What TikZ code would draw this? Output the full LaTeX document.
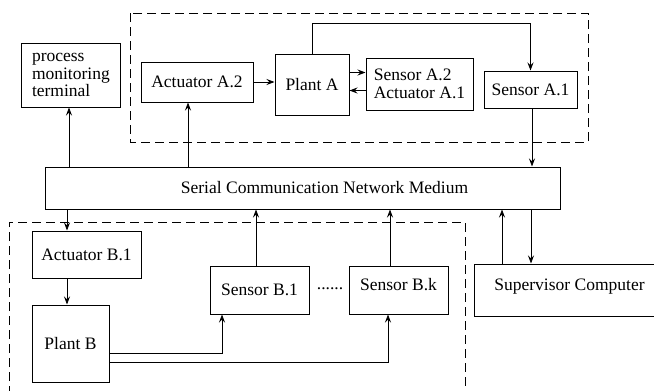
\documentclass[tikz,border=0pt]{standalone}
\usepackage{fontspec}
\setmainfont{Liberation Serif}
\usetikzlibrary{arrows.meta}
\begin{document}
\begin{tikzpicture}[x=1pt,y=-1pt,
  txt/.style={font=\fontsize{17.5}{17.5}\selectfont},
  box/.style={draw, line width=1pt, inner sep=0pt, txt},
  arr/.style={-{Stealth[length=8pt,width=6pt,inset=3pt]}, line width=0.9pt},
  group/.style={draw, line width=1pt, dash pattern=on 9pt off 5pt}]
\useasboundingbox (0,0) rectangle (654,391);

% subsystem A and subsystem B enclosures
\draw[group] (130,13) rectangle (588,142);
\draw[group] (9,395) -- (9,222) -- (465,222) -- (465,395);

% blocks
\node[box, minimum width=99pt, minimum height=64pt, text width=77pt, align=left] (pmt) at (70.5,75) {process\\monitoring\\terminal};
\node[box, minimum width=112pt, minimum height=40pt] (actA2) at (197,82) {Actuator A.2};
\node[box, minimum width=74pt, minimum height=61pt] (plantA) at (312,84.5) {Plant A};
\node[box, minimum width=107pt, minimum height=52pt, align=left] (sensA2) at (419.5,84) {Sensor A.2\\Actuator A.1};
\node[box, minimum width=93pt, minimum height=37pt] (sensA1) at (530.5,89.5) {Sensor A.1};

\node[box, minimum width=515pt, minimum height=42pt] (net) at (302.5,188) {};
\node[txt, inner sep=0pt] (netlabel) at (324.5,188) {Serial Communication Network Medium};

\node[box, minimum width=109pt, minimum height=47pt] (actB1) at (86.5,254.5) {Actuator B.1};
\node[box, minimum width=77pt, minimum height=77pt] (plantB) at (70.5,343.5) {Plant B};
\node[box, minimum width=99pt, minimum height=48pt] (sensB1) at (259.5,290) {Sensor B.1};
\node[txt, inner sep=0pt] (dots) at (330,289) {......};
\node[box, minimum width=99pt, minimum height=48pt] (sensBk) at (398.5,290) {};
\node[txt, inner sep=0pt] (sensBklabel) at (398.5,284.5) {Sensor B.k};
\node[box, minimum width=182pt, minimum height=52pt] (sup) at (565,290) {};
\node[txt, inner sep=0pt] (suplabel) at (569.5,287) {Supervisor Computer};

% subsystem A signal paths
\draw[arr] ([xshift=-1.5pt]pmt.south |- net.north) -- ([xshift=-1.5pt]pmt.south);
\draw[arr] ([xshift=-9pt]actA2.south |- net.north) -- ([xshift=-9pt]actA2.south);
\draw[arr] (actA2.east) -- (plantA.west |- actA2.east);
\draw[arr] ([yshift=12pt]plantA.east) -- ([yshift=12pt]sensA2.west |- plantA.east);
\draw[arr] ([yshift=-6pt]sensA2.west |- plantA.east) -- ([yshift=-6pt]plantA.east);
\draw[arr] (plantA.north) -- ++(0,-30) -| (sensA1.north);
\draw[arr] ([xshift=1.5pt]sensA1.south) -- ([xshift=1.5pt]sensA1.south |- net.north);

% subsystem B signal paths
\draw[arr] ([xshift=-19.5pt]actB1.north |- net.south) -- ([xshift=-19.5pt]actB1.north);
\draw[arr] ([xshift=-19.5pt]actB1.south) -- ([xshift=-19.5pt]actB1.south |- plantB.north);
\draw[arr] ([yshift=-9.5pt]plantB.east) -| ([xshift=-37.5pt]sensB1.south);
\draw[arr] ([yshift=-18.5pt]plantB.east) -| ([xshift=-10.5pt]sensBk.south);
\draw[arr] ([xshift=-3.5pt]sensB1.north) -- ([xshift=-3.5pt]sensB1.north |- net.south);
\draw[arr] ([xshift=-8.5pt]sensBk.north) -- ([xshift=-8.5pt]sensBk.north |- net.south);

% supervisor links
\draw[arr] ([xshift=-63pt]sup.north) -- ([xshift=-63pt]sup.north |- net.south);
\draw[arr] ([xshift=-34pt]sup.north |- net.south) -- ([xshift=-34pt]sup.north);
\end{tikzpicture}
\end{document}
